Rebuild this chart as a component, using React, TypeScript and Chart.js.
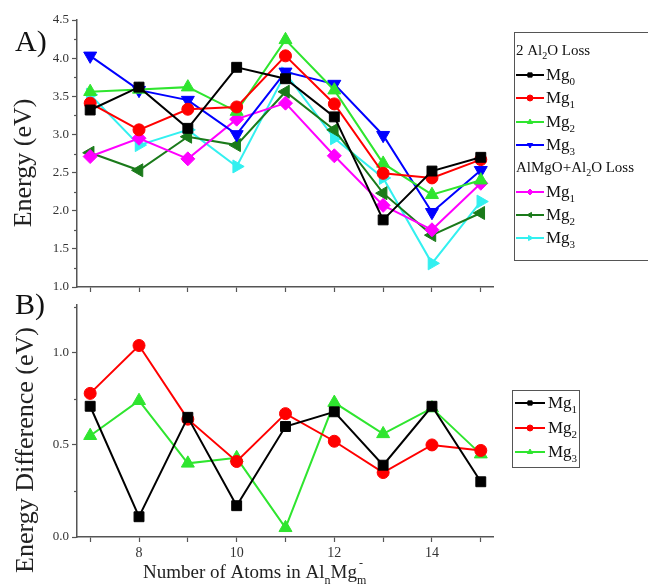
import React, { useEffect, useRef } from 'react';
import { Chart, registerables } from 'chart.js';
Chart.register(...registerables);

// ---- data ----
const atoms = [7, 8, 9, 10, 11, 12, 13, 14, 15];
const lossMg0 = [3.32, 3.62, 3.08, 3.88, 3.73, 3.23, 1.88, 2.52, 2.70];
const lossMg1 = [3.41, 3.06, 3.33, 3.36, 4.03, 3.40, 2.49, 2.43, 2.67];
const lossMg2 = [3.56, 3.59, 3.62, 3.30, 4.24, 3.58, 2.62, 2.21, 2.40];
const lossMg3 = [4.03, 3.58, 3.45, 3.00, 3.82, 3.66, 2.99, 1.98, 2.53];
const mixMg1 = [2.71, 2.95, 2.68, 3.20, 3.41, 2.72, 2.07, 1.75, 2.36];
const mixMg2 = [2.76, 2.53, 2.97, 2.86, 3.56, 3.06, 2.23, 1.68, 1.97];
const mixMg3 = [3.52, 2.86, 3.06, 2.58, 3.80, 2.95, 2.43, 1.31, 2.12];
const diffMg1 = [0.71, 0.11, 0.65, 0.17, 0.60, 0.68, 0.39, 0.71, 0.30];
const diffMg2 = [0.78, 1.04, 0.64, 0.41, 0.67, 0.52, 0.35, 0.50, 0.47];
const diffMg3 = [0.55, 0.74, 0.40, 0.43, 0.05, 0.73, 0.56, 0.70, 0.45];
const energyTicks = [1.0, 1.5, 2.0, 2.5, 3.0, 3.5, 4.0, 4.5];
const energyMinor = [1.25, 1.75, 2.25, 2.75, 3.25, 3.75, 4.25];
const diffTicks = [0.0, 0.5, 1.0];
const diffMinor = [0.25, 0.75, 1.25];

const FONT = "'Liberation Serif', 'DejaVu Serif', serif";
const AXIS = '#555';

type Part = { t: string; s: number; dy?: number };

function drawRich(ctx: CanvasRenderingContext2D, x: number, y: number, parts: Part[], color = '#111') {
  ctx.save();
  ctx.fillStyle = color;
  ctx.textBaseline = 'alphabetic';
  ctx.textAlign = 'left';
  let cx = x;
  for (const p of parts) {
    ctx.font = `${p.s}px ${FONT}`;
    ctx.fillText(p.t, cx, y + (p.dy || 0));
    cx += ctx.measureText(p.t).width;
  }
  ctx.restore();
  return cx;
}

const mk = (ys: number[]) => atoms.map((x, i) => ({ x, y: ys[i] }));

const topSeries = [
  { label: 'Mg0', data: lossMg0, color: '#000000', style: 'rect', rot: 0, r: 7 },
  { label: 'Mg1', data: lossMg1, color: '#ff0000', style: 'circle', rot: 0, r: 6 },
  { label: 'Mg2', data: lossMg2, color: '#2fe52f', style: 'triangle', rot: 0, r: 7.5 },
  { label: 'Mg3', data: lossMg3, color: '#0000ff', style: 'triangle', rot: 180, r: 7.5 },
  { label: 'Mg1', data: mixMg1, color: '#ff00ff', style: 'rectRot', rot: 0, r: 7 },
  { label: 'Mg2', data: mixMg2, color: '#1a7a1a', style: 'triangle', rot: 270, r: 7.5 },
  { label: 'Mg3', data: mixMg3, color: '#33f0f0', style: 'triangle', rot: 90, r: 7.5 },
];
const botSeries = [
  { label: 'Mg1', data: diffMg1, color: '#000000', style: 'rect', rot: 0, r: 7 },
  { label: 'Mg2', data: diffMg2, color: '#ff0000', style: 'circle', rot: 0, r: 6 },
  { label: 'Mg3', data: diffMg3, color: '#2fe52f', style: 'triangle', rot: 0, r: 7.5 },
];

function toDatasets(list: any[]) {
  return list.map((s) => ({
    label: s.label,
    data: mk(s.data),
    borderColor: s.color,
    backgroundColor: s.color,
    borderWidth: 2,
    pointStyle: s.style,
    pointRotation: s.rot,
    pointRadius: s.r,
    pointBorderWidth: 1,
    tension: 0,
  }));
}

function drawMarker(ctx: CanvasRenderingContext2D, x: number, y: number, style: string, rotation: number, r: number) {
  const rad = (rotation * Math.PI) / 180;
  ctx.beginPath();
  if (style === 'circle') {
    ctx.arc(x, y, r, 0, Math.PI * 2);
  } else if (style === 'rect') {
    const s = r * Math.SQRT1_2;
    ctx.rect(x - s, y - s, 2 * s, 2 * s);
  } else if (style === 'rectRot') {
    ctx.moveTo(x, y - r);
    ctx.lineTo(x + r, y);
    ctx.lineTo(x, y + r);
    ctx.lineTo(x - r, y);
    ctx.closePath();
  } else {
    let a = rad;
    ctx.moveTo(x + Math.sin(a) * r, y - Math.cos(a) * r);
    a += (2 * Math.PI) / 3;
    ctx.lineTo(x + Math.sin(a) * r, y - Math.cos(a) * r);
    a += (2 * Math.PI) / 3;
    ctx.lineTo(x + Math.sin(a) * r, y - Math.cos(a) * r);
    ctx.closePath();
  }
  ctx.fill();
  ctx.stroke();
}

function legendLine(ctx: CanvasRenderingContext2D, x1: number, x2: number, y: number, s: any) {
  ctx.save();
  ctx.strokeStyle = s.color;
  ctx.fillStyle = s.color;
  ctx.lineWidth = 2;
  ctx.beginPath();
  ctx.moveTo(x1, y);
  ctx.lineTo(x2, y);
  ctx.stroke();
  ctx.lineWidth = 1;
  drawMarker(ctx, (x1 + x2) / 2, y, s.style, s.rot, 3);
  ctx.restore();
}

function minorTicks(chart: any, yVals: number[]) {
  const ctx = chart.ctx;
  const ys = chart.scales.y;
  const a = chart.chartArea;
  ctx.save();
  ctx.strokeStyle = AXIS;
  ctx.lineWidth = 1.2;
  for (const v of yVals) {
    if (v < ys.min || v > ys.max) continue;
    const py = Math.round(ys.getPixelForValue(v)) + 0.5;
    ctx.beginPath();
    ctx.moveTo(a.left - 3, py);
    ctx.lineTo(a.left, py);
    ctx.stroke();
  }
  ctx.restore();
}

function mgEntry(ctx: CanvasRenderingContext2D, s: any, y: number, x1: number, x2: number, tx: number) {
  legendLine(ctx, x1, x2, y, s);
  drawRich(ctx, tx, y + 5, [
    { t: 'Mg', s: 17 },
    { t: s.label.slice(2), s: 11, dy: 5 },
  ]);
}

function yTitle(ctx: CanvasRenderingContext2D, text: string, x: number, y: number, size: number) {
  ctx.save();
  ctx.translate(x, y);
  ctx.rotate(-Math.PI / 2);
  ctx.font = `${size}px ${FONT}`;
  ctx.fillStyle = '#222';
  ctx.textAlign = 'center';
  ctx.textBaseline = 'alphabetic';
  ctx.fillText(text, 0, 0);
  ctx.restore();
}

const topPlugin = {
  id: 'topDecor',
  afterDraw(chart: any) {
    const ctx = chart.ctx as CanvasRenderingContext2D;
    minorTicks(chart, energyMinor);
    drawRich(ctx, 15, 51, [{ t: 'A)', s: 30 }]);
    yTitle(ctx, 'Energy (eV)', 31, 163, 26);
    ctx.save();
    ctx.strokeStyle = '#555';
    ctx.lineWidth = 1;
    ctx.strokeRect(514.5, 32.5, 200, 228);
    ctx.restore();
    drawRich(ctx, 516, 55, [
      { t: '2 Al', s: 15 },
      { t: '2', s: 10, dy: 4 },
      { t: 'O Loss', s: 15 },
    ]);
    const ysA = [75, 98, 122, 145];
    for (let i = 0; i < 4; i++) mgEntry(ctx, topSeries[i], ysA[i], 516, 544, 546);
    drawRich(ctx, 516, 172, [
      { t: 'AlMgO+Al', s: 15 },
      { t: '2', s: 10, dy: 4 },
      { t: 'O Loss', s: 15 },
    ]);
    const ysB = [192, 215, 238];
    for (let i = 0; i < 3; i++) mgEntry(ctx, topSeries[4 + i], ysB[i], 516, 544, 546);
  },
};

const botPlugin = {
  id: 'botDecor',
  afterDraw(chart: any) {
    const ctx = chart.ctx as CanvasRenderingContext2D;
    minorTicks(chart, diffMinor);
    drawRich(ctx, 15, 314, [{ t: 'B)', s: 30 }]);
    yTitle(ctx, 'Energy Difference (eV)', 33, 450, 26);
    // x title
    const bx = 143;
    const by = 578;
    let cx = drawRich(ctx, bx, by, [{ t: 'Number of Atoms in Al', s: 19 }], '#222');
    cx = drawRich(ctx, cx, by + 6, [{ t: 'n', s: 12 }], '#222');
    cx = drawRich(ctx, cx, by, [{ t: 'Mg', s: 19 }], '#222');
    drawRich(ctx, cx, by + 6, [{ t: 'm', s: 12 }], '#222');
    drawRich(ctx, cx + 2, by - 11, [{ t: '-', s: 12 }], '#222');
    // legend
    ctx.save();
    ctx.strokeStyle = '#555';
    ctx.lineWidth = 1;
    ctx.strokeRect(512.5, 390.5, 67, 77);
    ctx.restore();
    const ys = [403, 428, 452];
    for (let i = 0; i < 3; i++) mgEntry(ctx, botSeries[i], ys[i], 515, 545, 548);
  },
};

function makeOptions(kind: 'top' | 'bot') {
  const isTop = kind === 'top';
  return {
    responsive: false,
    animation: false as const,
    events: [],
    layout: {
      padding: isTop
        ? { top: 20, right: 155, bottom: 287, left: 0 }
        : { top: 305, right: 155, bottom: 0, left: 0 },
    },
    plugins: { legend: { display: false }, tooltip: { enabled: false }, title: { display: false } },
    scales: {
      x: {
        type: 'linear' as const,
        min: 6.73,
        max: 15.25,
        afterBuildTicks: (s: any) => {
          s.ticks = atoms.map((v) => ({ value: v }));
        },
        afterFit: (s: any) => {
          s.height = isTop ? 10 : 47;
        },
        border: { display: true, color: AXIS, width: 1.5 },
        grid: { display: true, drawOnChartArea: false, drawTicks: true, tickLength: 5, color: AXIS, tickWidth: 1.2 },
        ticks: {
          maxRotation: 0,
          autoSkip: false,
          padding: 3,
          color: '#333',
          font: { family: FONT, size: 14 },
          callback: (v: any) => (isTop ? '' : v % 2 === 0 ? String(v) : ''),
        },
      },
      y: {
        type: 'linear' as const,
        min: isTop ? 1.0 : 0,
        max: isTop ? 4.5 : 1.26,
        afterBuildTicks: (s: any) => {
          s.ticks = (isTop ? energyTicks : diffTicks).map((v) => ({ value: v }));
        },
        afterFit: (s: any) => {
          s.width = 77;
        },
        border: { display: true, color: AXIS, width: 1.5 },
        grid: { display: true, drawOnChartArea: false, drawTicks: true, tickLength: 5, color: AXIS, tickWidth: 1.2 },
        ticks: {
          padding: 3,
          color: '#333',
          font: { family: FONT, size: 13 },
          callback: (v: any) => Number(v).toFixed(1),
        },
      },
    },
  };
}

export default function App() {
  const topRef = useRef<HTMLCanvasElement>(null);
  const botRef = useRef<HTMLCanvasElement>(null);
  useEffect(() => {
    const c1 = new Chart(topRef.current!, {
      type: 'line',
      data: { datasets: toDatasets(topSeries) as any },
      options: makeOptions('top') as any,
      plugins: [topPlugin],
    });
    const c2 = new Chart(botRef.current!, {
      type: 'line',
      data: { datasets: toDatasets(botSeries) as any },
      options: makeOptions('bot') as any,
      plugins: [botPlugin],
    });
    return () => {
      c1.destroy();
      c2.destroy();
    };
  }, []);
  const cs: React.CSSProperties = { position: 'absolute', left: 0, top: 0, width: 648, height: 584 };
  return (
    <div style={{ position: 'absolute', left: 0, top: 0, width: 648, height: 584, background: '#fff', overflow: 'hidden' }}>
      <canvas ref={topRef} width={648} height={584} style={cs} />
      <canvas ref={botRef} width={648} height={584} style={cs} />
    </div>
  );
}
